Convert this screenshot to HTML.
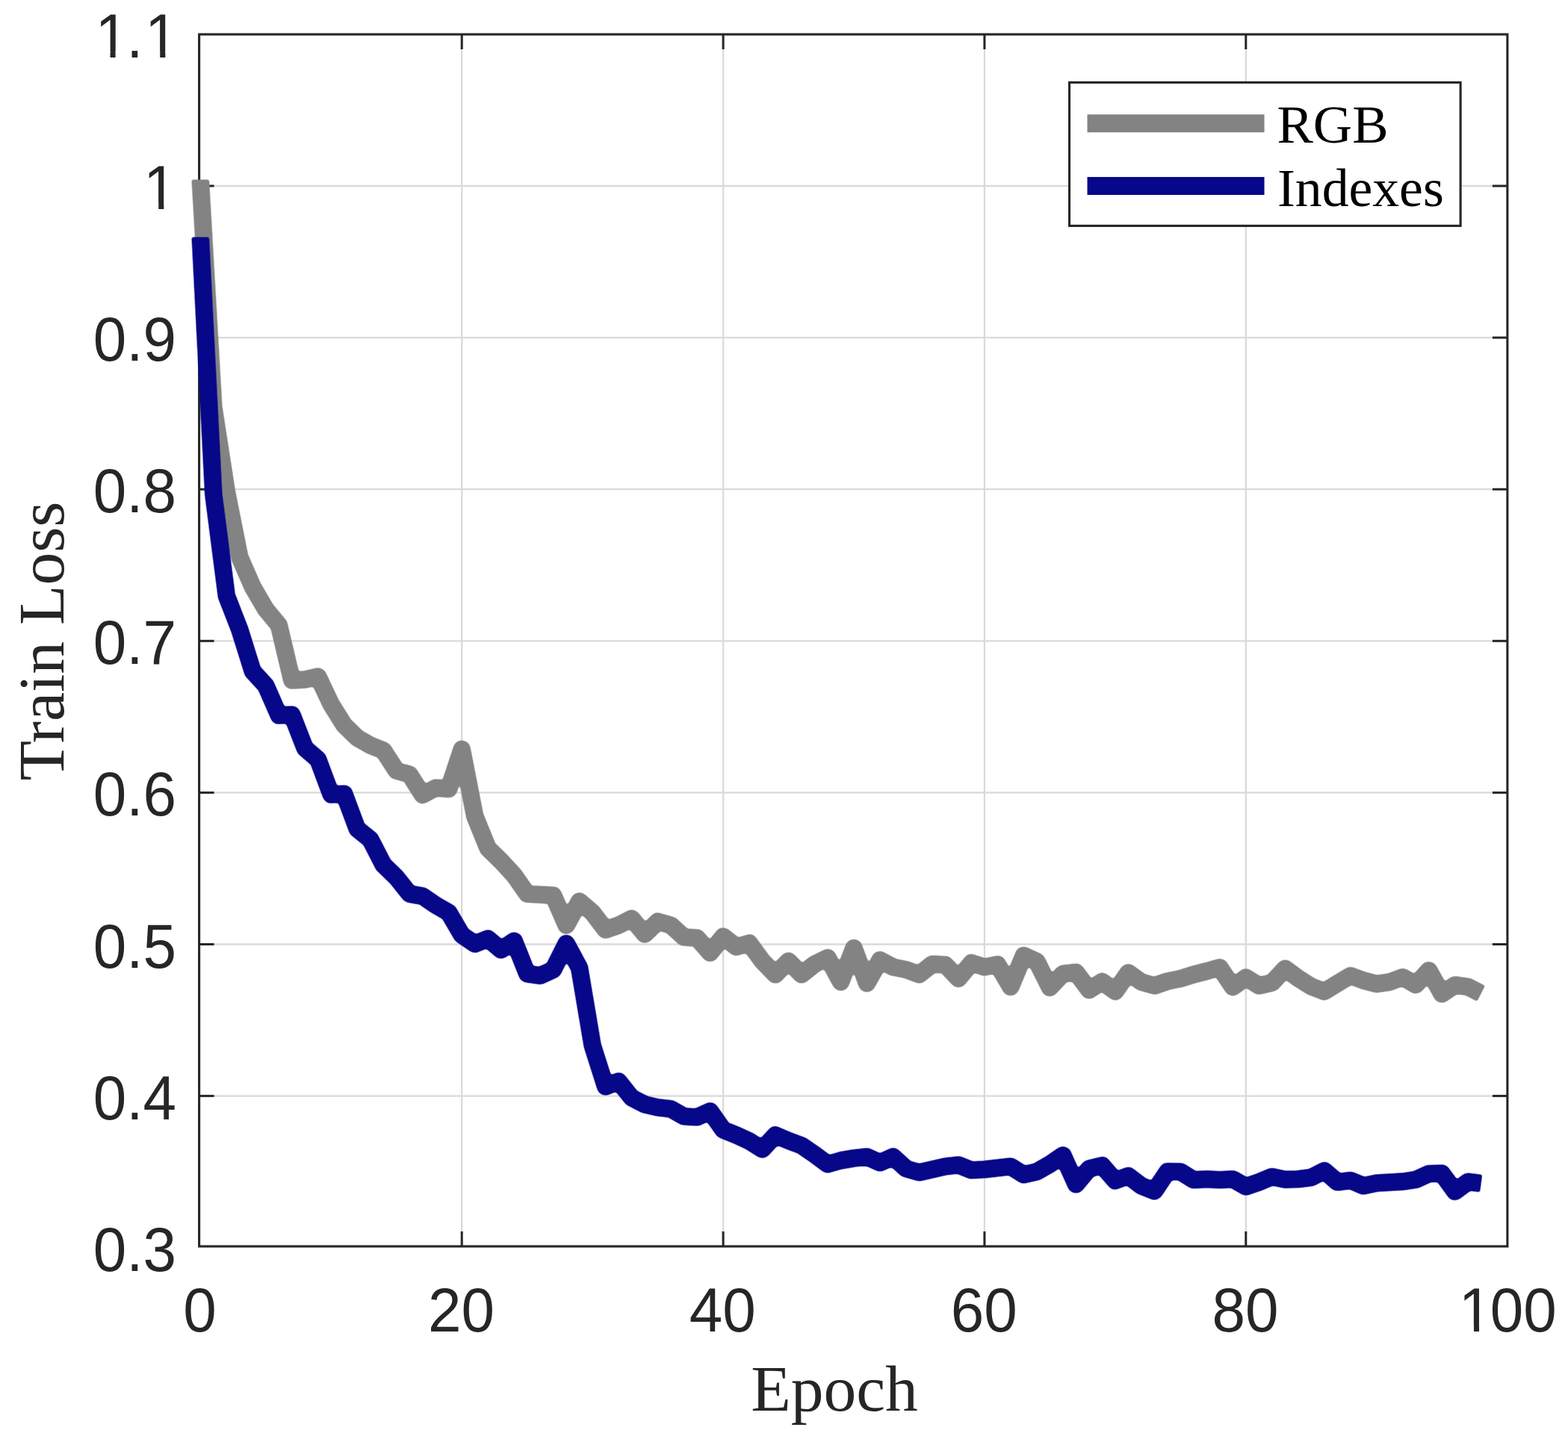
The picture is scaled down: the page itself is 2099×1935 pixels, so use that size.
<!DOCTYPE html>
<html><head><meta charset="utf-8"><title>Train Loss</title>
<style>
html,body{margin:0;padding:0;background:#fff;}
body{width:2099px;height:1935px;}
svg{display:block;}
#wrap{width:2099px;height:1935px;}
.tick{font-family:"Liberation Sans",sans-serif;font-kerning:none;font-size:83px;fill:#262626;}
.lab{font-family:"Liberation Serif",serif;font-size:87.5px;fill:#262626;}
.leg{font-family:"Liberation Serif",serif;font-size:72.5px;fill:#000;}
</style></head><body>
<div id="wrap">
<svg width="2099" height="1935" viewBox="0 0 2099 1935">
<rect x="0" y="0" width="2099" height="1935" fill="#fff"/>
<g stroke="#dadada" stroke-width="2.3" fill="none"><line x1="618.2" y1="46.0" x2="618.2" y2="1669.0"/><line x1="968.1" y1="46.0" x2="968.1" y2="1669.0"/><line x1="1317.9" y1="46.0" x2="1317.9" y2="1669.0"/><line x1="1667.8" y1="46.0" x2="1667.8" y2="1669.0"/><line x1="266.6" y1="1467.6" x2="2017.9" y2="1467.6"/><line x1="266.6" y1="1264.5" x2="2017.9" y2="1264.5"/><line x1="266.6" y1="1061.4" x2="2017.9" y2="1061.4"/><line x1="266.6" y1="858.3" x2="2017.9" y2="858.3"/><line x1="266.6" y1="655.2" x2="2017.9" y2="655.2"/><line x1="266.6" y1="452.1" x2="2017.9" y2="452.1"/><line x1="266.6" y1="249.0" x2="2017.9" y2="249.0"/></g>
<g stroke="#262626" stroke-width="3" fill="none"><line x1="618.2" y1="1669.0" x2="618.2" y2="1649.0"/><line x1="618.2" y1="46.0" x2="618.2" y2="66.0"/><line x1="968.1" y1="1669.0" x2="968.1" y2="1649.0"/><line x1="968.1" y1="46.0" x2="968.1" y2="66.0"/><line x1="1317.9" y1="1669.0" x2="1317.9" y2="1649.0"/><line x1="1317.9" y1="46.0" x2="1317.9" y2="66.0"/><line x1="1667.8" y1="1669.0" x2="1667.8" y2="1649.0"/><line x1="1667.8" y1="46.0" x2="1667.8" y2="66.0"/><line x1="266.6" y1="1467.6" x2="286.6" y2="1467.6"/><line x1="2017.9" y1="1467.6" x2="1997.9" y2="1467.6"/><line x1="266.6" y1="1264.5" x2="286.6" y2="1264.5"/><line x1="2017.9" y1="1264.5" x2="1997.9" y2="1264.5"/><line x1="266.6" y1="1061.4" x2="286.6" y2="1061.4"/><line x1="2017.9" y1="1061.4" x2="1997.9" y2="1061.4"/><line x1="266.6" y1="858.3" x2="286.6" y2="858.3"/><line x1="2017.9" y1="858.3" x2="1997.9" y2="858.3"/><line x1="266.6" y1="655.2" x2="286.6" y2="655.2"/><line x1="2017.9" y1="655.2" x2="1997.9" y2="655.2"/><line x1="266.6" y1="452.1" x2="286.6" y2="452.1"/><line x1="2017.9" y1="452.1" x2="1997.9" y2="452.1"/><line x1="266.6" y1="249.0" x2="286.6" y2="249.0"/><line x1="2017.9" y1="249.0" x2="1997.9" y2="249.0"/></g>
<rect x="266.6" y="46.0" width="1751.3" height="1623.0" fill="none" stroke="#262626" stroke-width="3.1"/>
<defs><filter id="goo" x="200" y="180" width="1850" height="1480" filterUnits="userSpaceOnUse" color-interpolation-filters="sRGB"><feGaussianBlur stdDeviation="1.5"/><feComponentTransfer><feFuncA type="linear" slope="2.5" intercept="-0.75"/></feComponentTransfer></filter></defs>
<g filter="url(#goo)"><path d="M268.3,240.5 L268.3,242.0 L285.8,545.0 L303.3,658.0 L320.8,746.0 L338.3,786.0 L355.8,816.0 L373.3,837.0 L390.8,911.0 L408.3,910.0 L425.7,906.0 L443.2,943.0 L460.7,971.0 L478.2,988.0 L495.7,998.0 L513.2,1005.0 L530.7,1032.0 L548.2,1037.0 L565.7,1064.5 L583.2,1055.0 L600.7,1056.5 L618.2,1003.4 L635.7,1093.0 L653.2,1136.0 L670.7,1153.0 L688.2,1172.0 L705.7,1197.0 L723.1,1198.0 L740.6,1199.0 L758.1,1239.0 L775.6,1207.0 L793.1,1222.0 L810.6,1245.0 L828.1,1239.0 L845.6,1230.0 L863.1,1251.0 L880.6,1234.0 L898.1,1239.0 L915.6,1255.0 L933.1,1256.0 L950.6,1276.0 L968.1,1254.0 L985.6,1268.0 L1003.0,1263.0 L1020.5,1287.0 L1038.0,1305.0 L1055.5,1287.0 L1073.0,1305.0 L1090.5,1291.0 L1108.0,1282.5 L1125.5,1315.0 L1143.0,1269.6 L1160.5,1316.7 L1178.0,1285.7 L1195.5,1295.0 L1213.0,1298.5 L1230.5,1305.0 L1248.0,1291.0 L1265.5,1292.0 L1283.0,1310.5 L1300.4,1289.5 L1317.9,1295.0 L1335.4,1291.7 L1352.9,1321.5 L1370.4,1279.5 L1387.9,1287.5 L1405.4,1322.5 L1422.9,1304.0 L1440.4,1302.0 L1457.9,1325.7 L1475.4,1314.5 L1492.9,1327.7 L1510.4,1302.5 L1527.9,1315.0 L1545.4,1320.0 L1562.9,1314.0 L1580.3,1310.5 L1597.8,1305.0 L1615.3,1300.5 L1632.8,1295.5 L1650.3,1321.7 L1667.8,1309.0 L1685.3,1320.0 L1702.8,1316.0 L1720.3,1297.0 L1737.8,1310.0 L1755.3,1321.0 L1772.8,1327.7 L1790.3,1317.0 L1807.8,1306.5 L1825.3,1313.0 L1842.8,1317.7 L1860.3,1315.0 L1877.7,1308.5 L1895.2,1318.7 L1912.7,1299.5 L1930.2,1331.0 L1947.7,1319.0 L1965.2,1321.5 L1982.7,1330.5" fill="none" stroke="#838383" stroke-width="23.6" stroke-linejoin="round" stroke-linecap="butt"/></g>
<g filter="url(#goo)"><path d="M268.3,317.5 L268.3,319.0 L285.8,662.0 L303.3,798.0 L320.8,843.0 L338.3,899.0 L355.8,918.0 L373.3,958.0 L390.8,957.0 L408.3,1002.0 L425.7,1017.0 L443.2,1064.0 L460.7,1063.0 L478.2,1110.0 L495.7,1124.0 L513.2,1158.0 L530.7,1175.0 L548.2,1197.0 L565.7,1200.0 L583.2,1212.0 L600.7,1222.0 L618.2,1252.0 L635.7,1264.0 L653.2,1257.0 L670.7,1272.0 L688.2,1260.0 L705.7,1304.0 L723.1,1306.5 L740.6,1298.5 L758.1,1263.5 L775.6,1296.0 L793.1,1400.0 L810.6,1455.0 L828.1,1448.0 L845.6,1470.0 L863.1,1479.0 L880.6,1483.0 L898.1,1485.0 L915.6,1495.0 L933.1,1496.0 L950.6,1488.0 L968.1,1513.0 L985.6,1520.0 L1003.0,1528.0 L1020.5,1539.0 L1038.0,1520.0 L1055.5,1527.5 L1073.0,1534.0 L1090.5,1546.0 L1108.0,1559.0 L1125.5,1554.0 L1143.0,1551.0 L1160.5,1549.0 L1178.0,1557.0 L1195.5,1549.0 L1213.0,1565.0 L1230.5,1570.0 L1248.0,1566.0 L1265.5,1562.0 L1283.0,1560.0 L1300.4,1567.0 L1317.9,1566.0 L1335.4,1564.0 L1352.9,1562.0 L1370.4,1573.0 L1387.9,1569.0 L1405.4,1559.0 L1422.9,1547.0 L1440.4,1586.0 L1457.9,1565.0 L1475.4,1560.7 L1492.9,1581.0 L1510.4,1574.7 L1527.9,1588.0 L1545.4,1595.0 L1562.9,1568.7 L1580.3,1569.0 L1597.8,1580.0 L1615.3,1579.0 L1632.8,1580.0 L1650.3,1579.0 L1667.8,1589.0 L1685.3,1583.0 L1702.8,1575.7 L1720.3,1579.5 L1737.8,1579.0 L1755.3,1576.7 L1772.8,1567.7 L1790.3,1583.0 L1807.8,1580.7 L1825.3,1588.0 L1842.8,1584.3 L1860.3,1583.3 L1877.7,1582.3 L1895.2,1579.7 L1912.7,1571.7 L1930.2,1571.3 L1947.7,1595.5 L1965.2,1582.5 L1982.7,1584.8" fill="none" stroke="#07078a" stroke-width="23.6" stroke-linejoin="round" stroke-linecap="butt"/></g>
<rect x="1431.5" y="110.4" width="523.6" height="192" fill="#fff" stroke="#262626" stroke-width="3.1"/>
<line x1="1455.5" y1="165.2" x2="1692.5" y2="165.2" stroke="#838383" stroke-width="24"/>
<line x1="1455.5" y1="249" x2="1692.5" y2="249" stroke="#07078a" stroke-width="24"/>
<text class="leg" x="1709.5" y="190.7">RGB</text>
<text class="leg" x="1710" y="276.2" textLength="222.8" lengthAdjust="spacingAndGlyphs">Indexes</text>
<text class="tick" transform="translate(124.77,76.9) scale(0.964,1)" x="2.72 46.16 71.94">1.1</text><rect x="131.69" y="68.70" width="15.82" height="9.70" fill="#fff"/><rect x="154.58" y="68.70" width="15.20" height="9.70" fill="#fff"/><rect x="198.42" y="68.70" width="15.82" height="9.70" fill="#fff"/><rect x="221.31" y="68.70" width="15.20" height="9.70" fill="#fff"/>
<text class="tick" transform="translate(189.50,280.0) scale(0.964,1)" x="2.72">1</text><rect x="196.42" y="271.80" width="15.82" height="9.70" fill="#fff"/><rect x="219.31" y="271.80" width="15.20" height="9.70" fill="#fff"/>
<text class="tick" transform="translate(124.77,483.1) scale(0.964,1)" x="0.00 46.16 69.22">0.9</text>
<text class="tick" transform="translate(124.77,686.2) scale(0.964,1)" x="0.00 46.16 69.22">0.8</text>
<text class="tick" transform="translate(124.77,889.3) scale(0.964,1)" x="0.00 46.16 69.22">0.7</text>
<text class="tick" transform="translate(124.77,1092.4) scale(0.964,1)" x="0.00 46.16 69.22">0.6</text>
<text class="tick" transform="translate(124.77,1295.5) scale(0.964,1)" x="0.00 46.16 69.22">0.5</text>
<text class="tick" transform="translate(124.77,1498.6) scale(0.964,1)" x="0.00 46.16 69.22">0.4</text>
<text class="tick" transform="translate(124.77,1701.7) scale(0.964,1)" x="0.00 46.16 69.22">0.3</text>
<text class="tick" transform="translate(245.35,1782.9) scale(0.964,1)" x="0.00">0</text>
<text class="tick" transform="translate(572.98,1782.9) scale(0.964,1)" x="0.00 46.16">20</text>
<text class="tick" transform="translate(922.86,1782.9) scale(0.964,1)" x="0.00 46.16">40</text>
<text class="tick" transform="translate(1272.74,1782.9) scale(0.964,1)" x="0.00 46.16">60</text>
<text class="tick" transform="translate(1622.62,1782.9) scale(0.964,1)" x="0.00 46.16">80</text>
<text class="tick" transform="translate(1950.25,1782.9) scale(0.964,1)" x="2.72 46.16 92.32">100</text><rect x="1957.17" y="1774.70" width="15.82" height="9.70" fill="#fff"/><rect x="1980.06" y="1774.70" width="15.20" height="9.70" fill="#fff"/>
<text class="lab" text-anchor="middle" x="1117" y="1889.2">Epoch</text>
<text class="lab" text-anchor="middle" transform="translate(84.5,858.5) rotate(-90)">Train Loss</text>
</svg>
</div>
</body></html>
